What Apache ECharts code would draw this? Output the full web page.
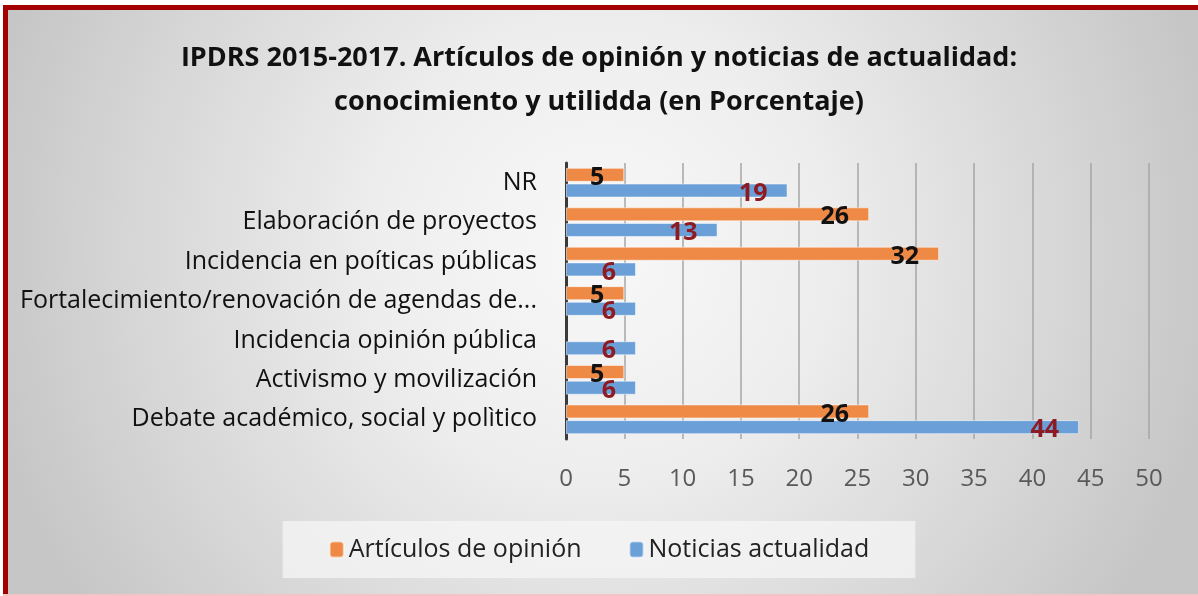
<!DOCTYPE html>
<html>
<head>
<meta charset="utf-8">
<script src="https://cdn.jsdelivr.net/npm/echarts@6/dist/echarts.min.js"></script>
<style>
  html, body { margin: 0; padding: 0; background: #fff; }
  #chart { width: 1198px; height: 596px; }
</style>
</head>
<body>
<div id="chart"></div>
<script>
// Data
const categories = [
  'NR',
  'Elaboración de proyectos',
  'Incidencia en poíticas públicas',
  'Fortalecimiento/renovación de agendas de...',
  'Incidencia opinión pública',
  'Activismo y movilización',
  'Debate académico, social y polìtico'
]
const articulos = [5, 26, 32, 5, null, 5, 26]
const noticias = [19, 13, 6, 6, 6, 6, 44]
const seriesNames = ['Artículos de opinión', 'Noticias actualidad']

const chart = echarts.init(document.getElementById('chart'))

const labelStyle = (color) => ({
  show: true,
  position: 'insideRight',
  distance: 20,
  offset: [0, 3],
  color: color,
  fontSize: 25,
  fontWeight: 'bold',
  fontFamily: 'Open Sans'
})

chart.setOption({
  backgroundColor: new echarts.graphic.RadialGradient(0.5, 0.42, 1.05, [
    { offset: 0, color: '#f8f8f8' },
    { offset: 0.35, color: '#eeeeee' },
    { offset: 0.75, color: '#d6d6d6' },
    { offset: 1, color: '#c6c6c6' }
  ]),
  textStyle: { fontFamily: 'Open Sans' },
  title: {
    text: 'IPDRS 2015-2017. Artículos de opinión y noticias de actualidad:\nconocimiento y utilidda (en Porcentaje)',
    left: 'center',
    top: 31,
    textStyle: {
      fontSize: 27,
      fontWeight: 'bold',
      color: '#111',
      lineHeight: 44,
      fontFamily: 'Open Sans'
    }
  },
  legend: {
    data: seriesNames,
    bottom: 18,
    left: 'center',
    itemWidth: 14,
    itemHeight: 16,
    itemGap: 47,
    padding: [16, 46, 16, 46],
    backgroundColor: 'rgba(245,245,245,0.75)',
    textStyle: { fontSize: 25, color: '#222', fontFamily: 'Open Sans' }
  },
  grid: {
    left: 566,
    right: 49,
    top: 163,
    bottom: 157,
    containLabel: false
  },
  xAxis: {
    type: 'value',
    min: 0,
    max: 50,
    interval: 5,
    axisLine: { show: false },
    axisTick: { show: false },
    axisLabel: { fontSize: 24, color: '#595959', margin: 28 },
    splitLine: { lineStyle: { color: '#a6a6a6', width: 1.5 } }
  },
  yAxis: {
    type: 'category',
    inverse: true,
    data: categories,
    axisLine: { lineStyle: { color: '#3a3a3a', width: 3 } },
    axisTick: { show: false },
    axisLabel: { fontSize: 25, color: '#111', margin: 29 }
  },
  series: [
    {
      name: seriesNames[0],
      type: 'bar',
      data: articulos,
      barWidth: 14,
      barGap: '12%',
      itemStyle: { color: '#EE8A46', borderColor: 'rgba(255,255,255,0.5)', borderWidth: 1 },
      label: labelStyle('#111')
    },
    {
      name: seriesNames[1],
      type: 'bar',
      data: noticias,
      barWidth: 14,
      itemStyle: { color: '#6A9FD8', borderColor: 'rgba(255,255,255,0.5)', borderWidth: 1 },
      label: labelStyle('#8e1b22')
    }
  ],
  // frame of the cropped picture: white margin and dark red edge
  graphic: [
    { type: 'rect', left: 0, top: 0, shape: { width: 1198, height: 5 }, style: { fill: '#ffffff' }, silent: true },
    { type: 'rect', left: 0, top: 0, shape: { width: 3, height: 596 }, style: { fill: '#ffffff' }, silent: true },
    { type: 'rect', left: 3, top: 5, shape: { width: 1195, height: 5 }, style: { fill: '#a50000' }, silent: true },
    { type: 'rect', left: 3, top: 5, shape: { width: 5, height: 591 }, style: { fill: '#a50000' }, silent: true },
    { type: 'rect', left: 3, top: 594, shape: { width: 1195, height: 2 }, style: { fill: '#f2c4c4' }, silent: true }
  ]
})

window.addEventListener('resize', () => chart.resize())
</script>
</body>
</html>
